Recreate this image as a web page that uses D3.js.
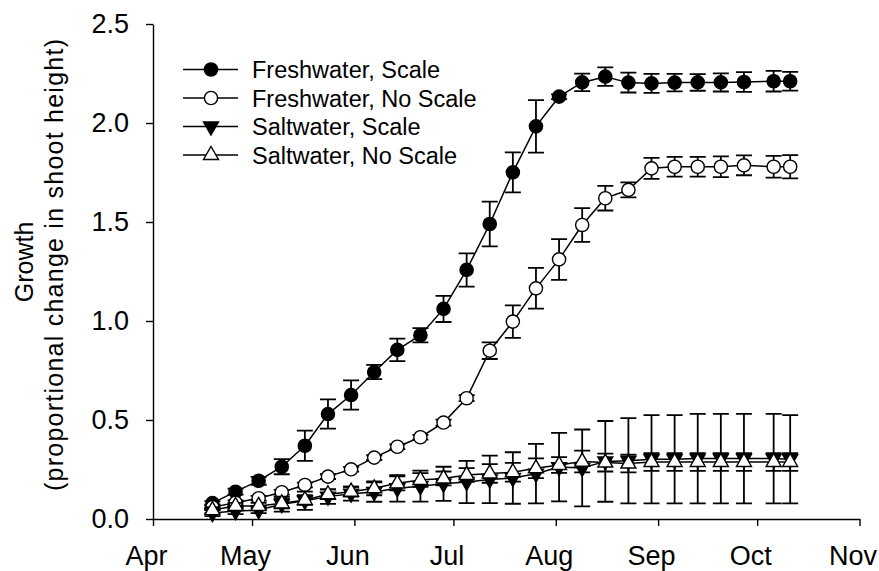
<!DOCTYPE html>
<html>
<head>
<meta charset="utf-8">
<script src="https://cdn.jsdelivr.net/npm/d3@7"></script>
<style>
  body { margin: 0; background: #fff; }
  text { font-family: Arial, "Liberation Sans", sans-serif; fill: #000; }
</style>
</head>
<body>
<svg id="chart" width="879" height="571"></svg>
<script>
// sampling dates (weekly, then two late ones)
const dates = ["2009-04-19","2009-04-26","2009-05-03","2009-05-10","2009-05-17","2009-05-24",
               "2009-05-31","2009-06-07","2009-06-14","2009-06-21","2009-06-28","2009-07-05",
               "2009-07-12","2009-07-19","2009-07-26","2009-08-02","2009-08-09","2009-08-16",
               "2009-08-23","2009-08-30","2009-09-06","2009-09-13","2009-09-20","2009-09-27",
               "2009-10-06","2009-10-11"];

const freshScale     = [0.08,0.138,0.193,0.264,0.37,0.53,0.626,0.742,0.854,0.928,1.061,1.258,
                        1.49,1.751,1.983,2.133,2.205,2.234,2.204,2.2,2.204,2.205,2.205,2.207,2.211,2.211];
const freshScaleErr  = [0.01,0.015,0.02,0.038,0.076,0.074,0.074,0.036,0.057,0.036,0.066,0.084,
                        0.113,0.101,0.133,0.012,0.044,0.047,0.05,0.048,0.044,0.042,0.046,0.05,0.052,0.047];

const freshNoScale    = [0.06,0.082,0.105,0.135,0.172,0.214,0.251,0.31,0.365,0.413,0.487,0.61,
                         0.85,0.997,1.165,1.311,1.485,1.62,1.662,1.771,1.779,1.779,1.779,1.786,1.779,1.779];
const freshNoScaleErr = [0.012,0.012,0.012,0.012,0.012,0.012,0.012,0.012,0.012,0.012,0.015,0.015,
                         0.042,0.082,0.103,0.103,0.085,0.062,0.038,0.053,0.05,0.05,0.052,0.05,0.055,0.059];

const saltScale     = [0.03,0.04,0.045,0.075,0.092,0.113,0.128,0.136,0.155,0.166,0.178,0.187,
                       0.2,0.207,0.229,0.262,0.258,0.291,0.294,0.302,0.302,0.305,0.305,0.305,0.305,0.302];
const saltScaleErr  = [0.015,0.015,0.015,0.038,0.046,0.037,0.035,0.049,0.067,0.078,0.086,0.107,
                       0.12,0.13,0.15,0.173,0.194,0.204,0.215,0.223,0.223,0.226,0.226,0.226,0.226,0.223];

const saltNoScale    = [0.045,0.066,0.066,0.079,0.096,0.125,0.138,0.155,0.18,0.197,0.205,0.222,
                        0.23,0.236,0.256,0.273,0.29,0.285,0.28,0.288,0.288,0.288,0.288,0.288,0.288,0.288];
const saltNoScaleErr = [0.015,0.015,0.015,0.025,0.025,0.025,0.025,0.035,0.035,0.035,0.035,0.035,
                        0.047,0.047,0.05,0.04,0.055,0.045,0.045,0.045,0.045,0.045,0.045,0.045,0.045,0.045];

const seriesNames = ["Freshwater, Scale","Freshwater, No Scale","Saltwater, Scale","Saltwater, No Scale"];
const yTicks = [0, 0.5, 1.0, 1.5, 2.0, 2.5];
const xDomain = ["2009-04-01","2009-11-01"];

const parse = d3.timeParse("%Y-%m-%d");
const svg = d3.select("#chart");

const x = d3.scaleTime().domain(xDomain.map(parse)).range([153, 859.5]);
const y = d3.scaleLinear().domain([0, 2.5]).range([519, 24]);

// marker shapes: circle filled/open, triangle down filled, triangle up open
const markers = [
  {shape: "circle", fill: "#000"},
  {shape: "circle", fill: "#fff"},
  {shape: "down",   fill: "#000"},
  {shape: "up",     fill: "#fff"}
];

const series = [
  {name: seriesNames[0], values: freshScale,   err: freshScaleErr,   mk: markers[0]},
  {name: seriesNames[1], values: freshNoScale, err: freshNoScaleErr, mk: markers[1]},
  {name: seriesNames[2], values: saltScale,    err: saltScaleErr,    mk: markers[2]},
  {name: seriesNames[3], values: saltNoScale,  err: saltNoScaleErr,  mk: markers[3]}
];

function triangle(up){
  return up ? "M0,-8.5L7.5,4.5L-7.5,4.5Z" : "M0,8.5L7.5,-4.5L-7.5,-4.5Z";
}

function draw_marker(g, mk){
  if(mk.shape == "circle"){
    g.append("circle").attr("r", 6.6);
  } else {
    g.append("path").attr("d", triangle(mk.shape == "up"));
  }
  g.selectAll("circle,path")
    .attr("fill", mk.fill)
    .attr("stroke", "#000")
    .attr("stroke-width", 1.4);
}

// axes
const xAxis = d3.axisBottom(x)
  .tickValues(d3.timeMonth.range(parse(xDomain[0]), d3.timeDay.offset(parse(xDomain[1]), 1)))
  .tickFormat(d3.timeFormat("%b"))
  .tickSize(7).tickPadding(20).tickSizeOuter(0);

const yAxis = d3.axisLeft(y)
  .tickValues(yTicks)
  .tickFormat(d3.format(".1f"))
  .tickSize(7).tickPadding(17).tickSizeOuter(0);

const gx = svg.append("g").attr("transform", "translate(0,519)").call(xAxis);
const gy = svg.append("g").attr("transform", "translate(153,0)").call(yAxis);

[gx, gy].forEach(function(g){
  g.select(".domain").attr("stroke", "#000").attr("stroke-width", 1.4);
  g.selectAll(".tick line").attr("stroke", "#000").attr("stroke-width", 1.4);
  g.selectAll(".tick text").attr("font-size", 27).attr("font-family", null);
});
gx.selectAll(".tick text").attr("x", -7);

// y axis title, two lines
const title = svg.append("g").attr("font-size", 25).attr("text-anchor", "middle");
title.append("text")
  .attr("transform", "translate(33,262) rotate(-90)")
  .text("Growth");
title.append("text")
  .attr("transform", "translate(63,265) rotate(-90)")
  .attr("textLength", 452).attr("lengthAdjust", "spacing")
  .text("(proportional change in shoot height)");

// series
const line = d3.line()
  .x(function(d){ return x(d.date); })
  .y(function(d){ return y(d.v); });

series.forEach(function(s){
  const pts = dates.map(function(d,i){ return {date: parse(d), v: s.values[i], e: s.err[i]}; });
  const g = svg.append("g");

  const bars = g.append("g").attr("stroke", "#000").attr("stroke-width", 1.8).attr("fill", "none");
  pts.forEach(function(p){
    const px = x(p.date), top = y(p.v + p.e), bot = y(p.v - p.e);
    bars.append("path")
      .attr("d", "M" + px + "," + top + "V" + bot +
                 "M" + (px - 8) + "," + top + "H" + (px + 8) +
                 "M" + (px - 8) + "," + bot + "H" + (px + 8));
  });

  g.append("path").datum(pts)
    .attr("d", line)
    .attr("fill", "none")
    .attr("stroke", "#000")
    .attr("stroke-width", 1.5);

  pts.forEach(function(p){
    draw_marker(g.append("g").attr("transform", "translate(" + x(p.date) + "," + y(p.v) + ")"), s.mk);
  });
});

// legend
const legendRows = [69.5, 98, 126.5, 155];
const legend = svg.append("g");
series.forEach(function(s,i){
  const row = legend.append("g").attr("transform", "translate(0," + legendRows[i] + ")");
  row.append("line").attr("x1", 183).attr("x2", 238)
    .attr("stroke", "#000").attr("stroke-width", 1.5);
  draw_marker(row.append("g").attr("transform", "translate(211,0)"), s.mk);
  row.append("text").attr("x", 252).attr("y", 8.5).attr("font-size", 23.5).text(s.name);
});
</script>
</body>
</html>
